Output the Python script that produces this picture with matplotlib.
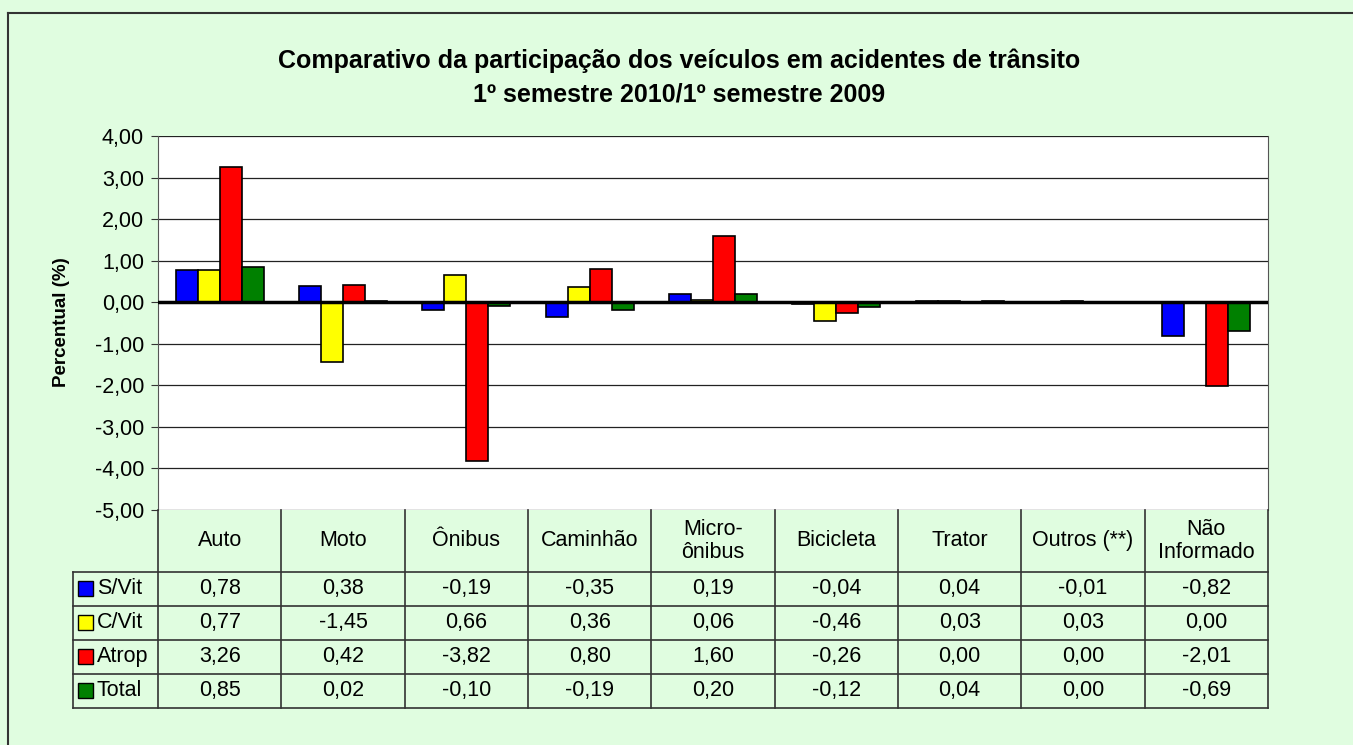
import matplotlib.pyplot as plt
from matplotlib.lines import Line2D
from matplotlib.patches import Rectangle
import numpy as np

plt.rcParams['font.family'] = ['Liberation Sans', 'DejaVu Sans']

# Data
categorias = ['Auto', 'Moto', 'Ônibus', 'Caminhão', 'Micro-\nônibus',
              'Bicicleta', 'Trator', 'Outros (**)', 'Não\nInformado']
series = ['S/Vit', 'C/Vit', 'Atrop', 'Total']
s_vit = [0.78, 0.38, -0.19, -0.35, 0.19, -0.04, 0.04, -0.01, -0.82]
c_vit = [0.77, -1.45, 0.66, 0.36, 0.06, -0.46, 0.03, 0.03, 0.00]
atrop = [3.26, 0.42, -3.82, 0.80, 1.60, -0.26, 0.00, 0.00, -2.01]
total = [0.85, 0.02, -0.10, -0.19, 0.20, -0.12, 0.04, 0.00, -0.69]
cores = ['#0000ff', '#ffff00', '#ff0000', '#008000']
yticks = np.arange(-5, 5, 1)

valores = [s_vit, c_vit, atrop, total]
bg = '#e0fde0'
fs = 15.5

W, H = 1353, 745
fig = plt.figure(figsize=(W / 100, H / 100), dpi=100, facecolor=bg)

# frame on top and left
fig.add_artist(Line2D([8 / W, 8 / W], [0, 1 - 13 / H], transform=fig.transFigure,
                      color='#333333', lw=1.5))
fig.add_artist(Line2D([8 / W, 1], [1 - 13 / H, 1 - 13 / H], transform=fig.transFigure,
                      color='#333333', lw=1.5))

# plot area
x0, x1, ytop, ybot = 158, 1268, 136, 510
ax = fig.add_axes([x0 / W, 1 - ybot / H, (x1 - x0) / W, (ybot - ytop) / H])
ax.set_facecolor('white')
n = len(categorias)
x = np.arange(n)
w = 0.178
for k, (vals, cor) in enumerate(zip(valores, cores)):
    ax.bar(x + (k - 1.5) * w, vals, w, color=cor, edgecolor='black', lw=1.2, zorder=3)
ax.axhline(0, color='black', lw=2.5, zorder=4)
ax.set_xlim(-0.5, n - 0.5)
ax.set_ylim(-5, 4)
ax.set_yticks(yticks)
ax.set_yticklabels([f'{v:.2f}'.replace('.', ',') for v in yticks], fontsize=fs)
ax.set_xticks([])
ax.yaxis.grid(True, color='#222222', lw=0.9, zorder=0)
ax.tick_params(axis='y', length=5, color='#333333', pad=5)
for s in ['left', 'right']:
    ax.spines[s].set_color('#555555')
ax.spines['top'].set_visible(False)
ax.spines['bottom'].set_visible(False)
fig.text(62 / W, 1 - 322 / H, 'Percentual (%)', rotation=90, ha='center', va='center',
         fontsize=13.5, fontweight='bold')

# title
fig.text(679 / W, 1 - 61 / H,
         'Comparativo da participação dos veículos em acidentes de trânsito',
         ha='center', va='center', fontsize=18, fontweight='bold')
fig.text(679 / W, 1 - 94 / H, '1º semestre 2010/1º semestre 2009',
         ha='center', va='center', fontsize=18, fontweight='bold')

# data table
tx0, tyb = 73, 708
colw = (x1 - x0) / n
leg_w = (x0 - tx0) / colw
tab = fig.add_axes([tx0 / W, 1 - tyb / H, (x1 - tx0) / W, (tyb - ybot) / H])
tab.set_xlim(-0.5 - leg_w, n - 0.5)
tab.set_ylim(tyb, ybot)
tab.axis('off')
rows = [ybot, 572, 606, 640, 674, 708]
lc = '#333333'
for i in range(n + 1):
    tab.plot([i - 0.5, i - 0.5], [ybot, tyb], color=lc, lw=1.2, clip_on=False)
tab.plot([-0.5 - leg_w] * 2, [rows[1], tyb], color=lc, lw=1.2, clip_on=False)
for r in rows[1:]:
    tab.plot([-0.5 - leg_w, n - 0.5], [r, r], color=lc, lw=1.2, clip_on=False)
for i, c in enumerate(categorias):
    tab.text(i, (rows[0] + rows[1]) / 2, c, ha='center', va='center', fontsize=fs,
             linespacing=1.1)
for k, (nome, vals, cor) in enumerate(zip(series, valores, cores)):
    yc = (rows[k + 1] + rows[k + 2]) / 2
    tab.add_patch(Rectangle((-0.5 - leg_w + 5 / colw, yc - 7.5), 15 / colw, 15,
                            facecolor=cor, edgecolor='black', lw=1, clip_on=False))
    tab.text(-0.5 - leg_w + 24 / colw, yc, nome, ha='left', va='center', fontsize=fs)
    for i, v in enumerate(vals):
        tab.text(i, yc, f'{v:.2f}'.replace('.', ','), ha='center', va='center',
                 fontsize=fs)

fig.savefig('out.png', dpi=100, facecolor=bg)
